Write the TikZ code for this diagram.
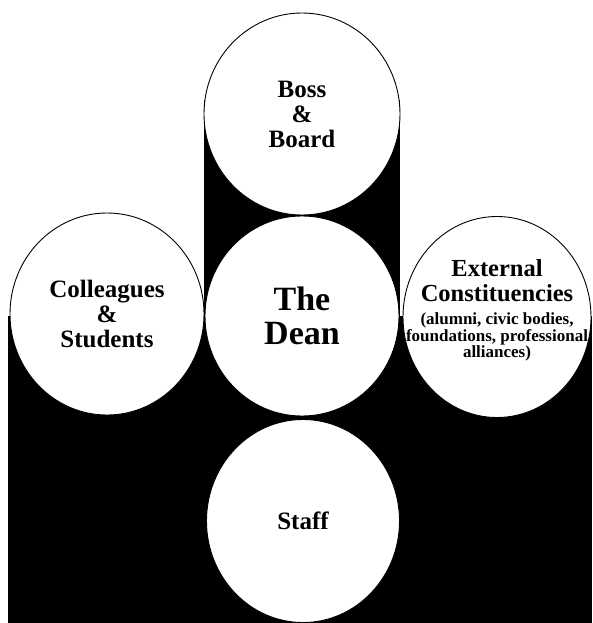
\documentclass[tikz,border=0pt]{standalone}
\usepackage{fontspec}
\setmainfont{Liberation Serif}
\usetikzlibrary{shapes.geometric, positioning}

\newcommand{\notefont}{\fontsize{17}{15}\selectfont}

\begin{document}
\begin{tikzpicture}[x=1pt, y=-1pt,
    bubble/.style={ellipse, draw=black, line width=0.9pt, fill=white, inner sep=0pt,
        minimum width=194pt, minimum height=201pt, align=center,
        font=\fontsize{25}{25}\selectfont\bfseries}]

    \useasboundingbox (0,0) rectangle (592,623);

    % --- Black backing (column + lower band) ---
    \fill[black] (8,316) rectangle (592,623);
    \fill[black] (204,100) rectangle (400,623);

    % --- Circles ---
    \node[bubble, minimum width=196pt, minimum height=202pt] (boss) at (302,114) {Boss\\\&\\Board};
    \node[bubble, minimum height=202pt] (colleagues) at (107,314) {Colleagues\\\&\\Students};
    \node[bubble, minimum height=200pt, font=\fontsize{34}{34}\selectfont\bfseries] (dean) at (302,316) {The\\Dean};
    \node[bubble, minimum width=188pt] (external) at (497,317) {};
    \node[bubble, minimum width=193pt, minimum height=203pt] (staff) at (303,521) {Staff};

    % External text sits a little above the circle's centre
    \node[align=center, inner sep=0pt, font=\fontsize{24.5}{25}\selectfont\bfseries] (externaltext) at (497,311)
        {External\\Constituencies\\[-2pt]{\notefont\begin{tabular}[t]{@{}c@{}}(alumni, civic bodies,\\foundations, professional\\alliances)\end{tabular}}};

\end{tikzpicture}
\end{document}
